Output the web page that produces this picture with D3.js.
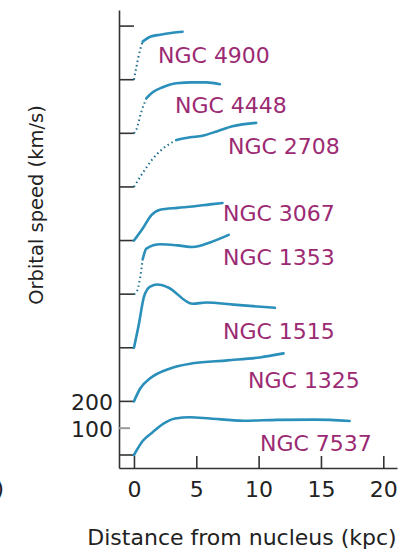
<!DOCTYPE html>
<html>
<head>
   <meta charset="utf-8">
   <title>Rotation curves</title>
   <script src="https://d3js.org/d3.v7.min.js"></script>
   <style>
   body { margin: 0; background: white; }
   svg { display: block; font-family: "DejaVu Sans", sans-serif; }
   </style>
</head>
<body>
  <div id="chart"></div>
  <script>

   // galaxies, top to bottom, each shifted up by 200 km/s on the plot
   var galaxies = ["NGC 4900", "NGC 4448", "NGC 2708", "NGC 3067", "NGC 1353", "NGC 1515", "NGC 1325", "NGC 7537"];
   var offsets = [1400, 1200, 1000, 800, 600, 400, 200, 0];
   var baseTicks = [0, 200, 400, 600, 800, 1000, 1200, 1400, 1600];
   var xTicks = [0, 5, 10, 15, 20];
   var yLabels = [200, 100];

   // distance (kpc) and orbital speed (km/s)
   var r4900 = [0, 0.2, 0.5, 0.7, 1.3, 2.1, 3.1, 3.9];
   var v4900 = [0, 49, 112, 142, 160, 168, 175, 179];
   var r4448 = [0, 0.2, 0.6, 1.0, 1.5, 2.3, 3.4, 4.7, 5.8, 6.9];
   var v4448 = [0, 15, 82, 131, 153, 172, 187, 190, 190, 183];
   var r2708 = [0, 0.7, 1.5, 2.3, 3.4, 4.5, 5.5, 6.7, 7.9, 9.8];
   var v2708 = [0, 52, 104, 142, 175, 185, 191, 208, 226, 239];
   var r3067 = [0, 0.7, 1.4, 2.1, 3.5, 4.7, 6.1, 7.1];
   var v3067 = [0, 45, 95, 115, 122, 127, 135, 140];
   var r1353 = [0, 0.2, 0.5, 0.7, 1.0, 2.1, 3.5, 4.7, 6.1, 7.6];
   var v1353 = [0, 7, 63, 130, 170, 186, 182, 176, 193, 221];
   var r1515 = [0, 0.4, 0.8, 1.3, 1.9, 2.7, 4.7, 5.8, 8.0, 11.3];
   var v1515 = [0, 90, 190, 228, 236, 226, 164, 169, 161, 149];
   var r1325 = [0, 0.5, 1.3, 2.9, 4.7, 7.5, 10.1, 12.0];
   var v1325 = [0, 48, 86, 123, 142, 153, 164, 179];
   var r7537 = [0, 0.7, 1.5, 2.4, 3.3, 4.5, 6.1, 8.8, 11.5, 14.5, 17.3];
   var v7537 = [0, 52, 85, 118, 136, 141, 136, 128, 131, 132, 127];

   var radii = [r4900, r4448, r2708, r3067, r1353, r1515, r1325, r7537];
   var speeds = [v4900, v4448, v2708, v3067, v1353, v1515, v1325, v7537];
   // how many points at the start are drawn dotted
   var dotted = [4, 4, 5, 0, 4, 0, 0, 0];

   // label placement (kpc, km/s above the curve's own zero)
   var labelR = [1.93, 3.29, 7.54, 7.14, 7.14, 7.14, 9.15, 10.11];
   var labelV = [92, 107, 151, 101, 140, 63, 78, 45];

   var width = 413, height = 553;
   var svg = d3.select("#chart").append("svg")
      .attr("width", width)
      .attr("height", height);

   var x = d3.scaleLinear().domain([-1.2, 21.1]).range([119, 397]);
   var y = d3.scaleLinear().domain([-48.5, 1660]).range([468, 10]);

   var axisColor = "#333";
   var curveColor = "#2a8fba";
   var labelColor = "#9c2a73";

   // x axis with inward ticks
   var xAxis = svg.append("g")
      .attr("transform", "translate(0," + y.range()[0] + ")")
      .call(d3.axisBottom(x).tickValues(xTicks).tickSizeInner(-12).tickSizeOuter(0).tickPadding(13));
   xAxis.select(".domain").attr("stroke", axisColor).attr("stroke-width", 1.6);
   xAxis.selectAll(".tick line").attr("stroke", axisColor).attr("stroke-width", 1.6);
   xAxis.selectAll(".tick text")
      .attr("fill", "#222")
      .style("font-size", "22px")
      .style("font-family", "DejaVu Sans, sans-serif");

   // y axis line only
   var yAxis = svg.append("g")
      .attr("transform", "translate(" + x.range()[0] + ",0)")
      .call(d3.axisLeft(y).tickValues([]).tickSizeOuter(0));
   yAxis.select(".domain").attr("stroke", axisColor).attr("stroke-width", 1.6);

   // zero line of each curve, from the axis to r = 0
   svg.selectAll(".base")
      .data(baseTicks)
      .enter()
      .append("line")
      .attr("class", "base")
      .attr("x1", x.range()[0])
      .attr("x2", x(0))
      .attr("y1", function(d) { return y(d) })
      .attr("y2", function(d) { return y(d) })
      .attr("stroke", axisColor)
      .attr("stroke-width", 1.6);

   // small grey tick at 100
   svg.append("line")
      .attr("x1", x.range()[0])
      .attr("x2", x.range()[0] + 11)
      .attr("y1", y(100))
      .attr("y2", y(100))
      .attr("stroke", "#999")
      .attr("stroke-width", 2);

   svg.selectAll(".ylab")
      .data(yLabels)
      .enter()
      .append("text")
      .attr("class", "ylab")
      .attr("x", x.range()[0] - 6)
      .attr("y", function(d) { return y(d) })
      .attr("dy", "0.4em")
      .attr("text-anchor", "end")
      .attr("fill", "#222")
      .style("font-size", "22px")
      .text(function(d) { return d });

   var line = d3.line()
      .x(function(d) { return x(d[0]) })
      .y(function(d) { return y(d[1]) })
      .curve(d3.curveMonotoneX);

   galaxies.forEach(function(name, i) {
      var pts = radii[i].map(function(r, j) { return [r, speeds[i][j] + offsets[i]] });
      var n = dotted[i];
      if (n > 0) {
         svg.append("path")
            .datum(pts.slice(0, n))
            .attr("d", line)
            .attr("fill", "none")
            .attr("stroke", "#1f6f8c")
            .attr("stroke-width", 2)
            .attr("stroke-dasharray", "1.5,3");
      }
      svg.append("path")
         .datum(pts.slice(Math.max(n - 1, 0)))
         .attr("d", line)
         .attr("fill", "none")
         .attr("stroke", curveColor)
         .attr("stroke-width", 2.6)
         .attr("stroke-linejoin", "round")
         .attr("stroke-linecap", "round");

      svg.append("text")
         .attr("x", x(labelR[i]))
         .attr("y", y(offsets[i] + labelV[i]))
         .attr("dy", "0.36em")
         .attr("fill", labelColor)
         .style("font-size", "22px")
         .text(name);
   });

   // axis titles
   svg.append("text")
      .attr("x", (x.range()[0] + x.range()[1]) / 2 - 16)
      .attr("y", 545)
      .attr("text-anchor", "middle")
      .attr("fill", "#222")
      .style("font-size", "22px")
      .text("Distance from nucleus (kpc)");

   svg.append("text")
      .attr("transform", "translate(43,205) rotate(-90)")
      .attr("text-anchor", "middle")
      .attr("fill", "#222")
      .style("font-size", "19.5px")
      .text("Orbital speed (km/s)");

   // clipped bracket at the left edge, as in the scan
   svg.append("text")
      .attr("x", 4)
      .attr("y", 496)
      .attr("text-anchor", "end")
      .attr("fill", "#222")
      .style("font-size", "22px")
      .text(")");

  </script>
</body>
</html>
